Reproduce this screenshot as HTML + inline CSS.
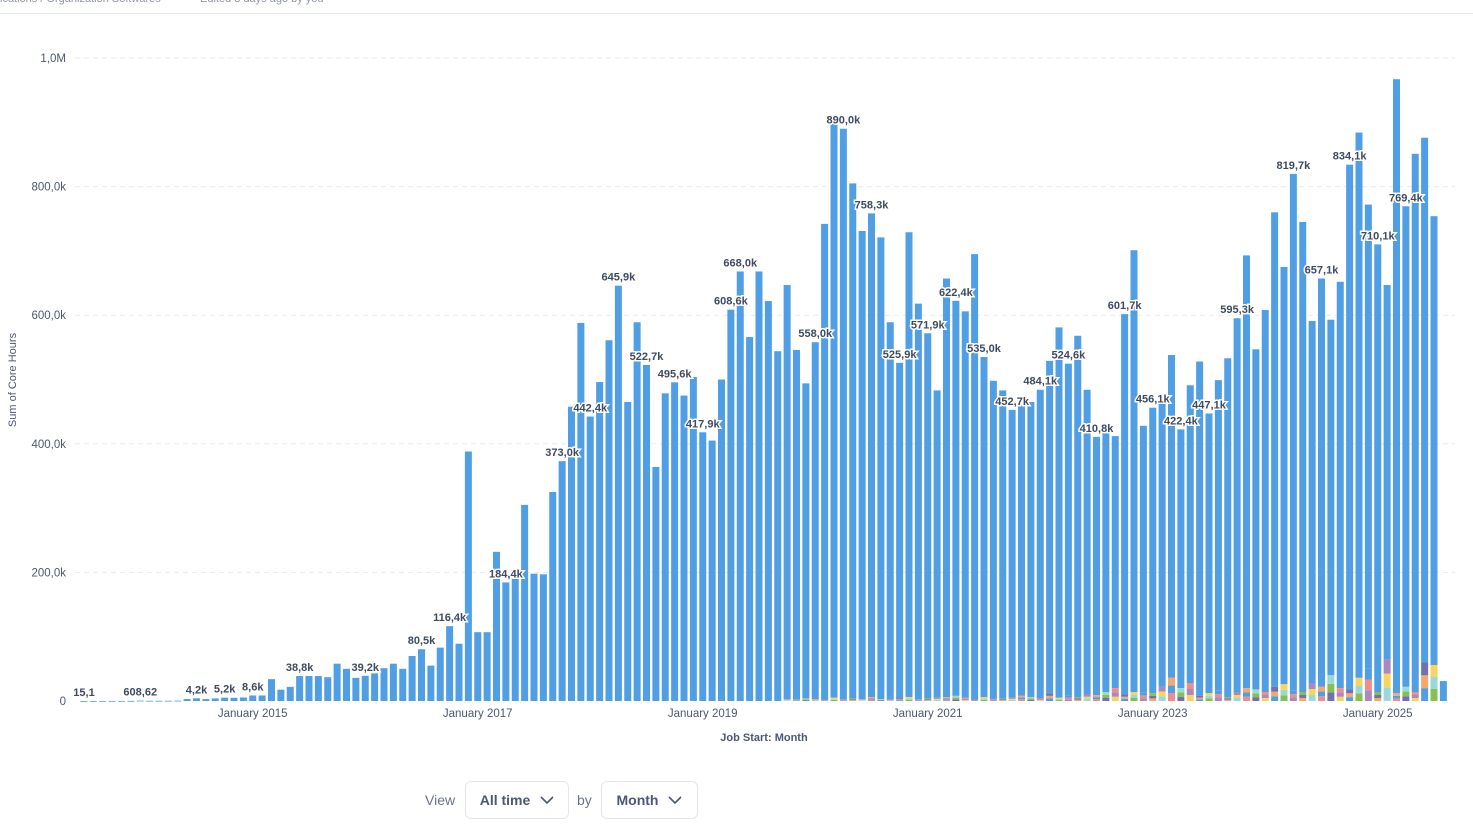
<!DOCTYPE html>
<html><head><meta charset="utf-8">
<style>
body{margin:0;width:1473px;height:826px;background:#fff;font-family:"Liberation Sans",sans-serif;overflow:hidden;position:relative}
.top{position:absolute;left:0;top:0;width:1473px;height:13px;border-bottom:1px solid #e6e8ec}
.top span{position:absolute;top:-7px;font-size:11px;color:#8e97a6}
.ctl{position:absolute;top:781px;height:38px;border:1px solid #e3e6ea;border-radius:6px;font-size:14px;font-weight:bold;color:#4c5773;display:flex;align-items:center;justify-content:center;gap:10px;box-sizing:border-box}
.lbl{position:absolute;top:792px;font-size:14px;color:#6b7487}
</style></head><body>
<div class="top"><span style="left:0">ications / Organization Softwares</span><span style="left:200px">Edited 3 days ago by you</span></div>
<svg id="chart" width="1473" height="770" style="position:absolute;left:0;top:0"></svg>
<div class="lbl" style="left:425px">View</div>
<div class="ctl" style="left:465px;width:104px">All time <svg width="14" height="8"><path d="M1 1l6 6 6-6" stroke="#4c5773" stroke-width="1.6" fill="none"/></svg></div>
<div class="lbl" style="left:577px">by</div>
<div class="ctl" style="left:601px;width:97px">Month <svg width="14" height="8"><path d="M1 1l6 6 6-6" stroke="#4c5773" stroke-width="1.6" fill="none"/></svg></div>
<script>
// values in thousands, monthly from July 2013
const startYear = 2013, startMonth = 6;
const values = [
0.0151,0.05,0.08,0.1,0.12,0.2,
0.60862,0.3,0.3,0.4,0.5,3.0,4.2,3.0,4.0,5.2,5.0,5.5,
8.6,8.6,34,17.6,22,38.8,38.8,38.8,37,58,50,36,
39.2,43,51,58,50,70,80.5,55,83,116.4,89,388,
107,107,232,184.4,190,305,198,197,325,373,457.7,588,
442.4,496,561,645.9,465,589,522.7,364,478.5,495.6,475,504,
417.9,405,500,608.6,668.0,566,668,622,544,647,546,494,
558.0,742,898,890.0,805,731,758.3,721,589,525.9,729,618,
571.9,483,657,622.4,606,695,535.0,498,483,452.7,460,465,
484.1,529,581,524.6,568,484,410.8,425,412,601.7,701,428,
456.1,463,538,422.4,491,528,447.1,499,533,595.3,693,547,
608,760,675,819.7,745,591,657.1,593,652,834.1,884,772,
710.1,647,967,769.4,851,876,754,31
];
const otherVals = [ // small stacked "other" series (thousands), aligned to end of values
0,3,2,4,3,2,5,3,4,3,6,3,2,4,6,3,4,5,6,8,5,3,6,4,
4,5,8,6,4,12,5,8,6,10,9,14,20,10,14,13,12,22,36,20,28,8,
12,16,6,14,20,18,14,22,26,16,14,28,22,40,20,18,36,50,14,64,12,22,14,60,56,0
];
const labeled = [0,6,12,15,18,23,30,36,39,45,51,54,57,60,63,66,69,70,78,81,84,87,90,93,96,99,102,105,108,111,114,117,120,123,129,132,135,138,141];
const yTicks = [0,200,400,600,800,1000];
const yTickLabels = ["0","200,0k","400,0k","600,0k","800,0k","1,0M"];
const xTickYears = [2015,2017,2019,2021,2023,2025];
const otherColors = ["#88bf4d","#a989c5","#f2a86f","#98d9d9","#ef8c8c","#7172ad","#f9d45c","#509ee3"];

const svg = document.getElementById('chart');
const NS = 'http://www.w3.org/2000/svg';
const y0 = 701, yTop = 58, x0 = 84, pitch = 9.375, bw = 7;
const yScale = v => y0 - v / 1000 * (y0 - yTop);
const xScale = i => x0 + i * pitch;
function mk(tag, attrs, text){const e=document.createElementNS(NS,tag);for(const k in attrs)e.setAttribute(k,attrs[k]);if(text!==undefined)e.textContent=text;svg.appendChild(e);return e;}
function fmt(v){ if(v<1) return (v*1000).toLocaleString('de-DE',{maximumFractionDigits:2}); return v.toFixed(1).replace('.',',')+'k'; }

yTicks.forEach((t,i)=>{
  if(t>0){const g=mk('line',{x1:75,x2:1455,y1:yScale(t),y2:yScale(t),stroke:'#e8eaed','stroke-dasharray':'5,4'});
  
  }
  const l=mk('text',{x:66,y:yScale(t)+4,'text-anchor':'end','font-size':11.5,fill:'#4c5773'},yTickLabels[i]);
  
  
});
const yt=mk('text',{x:16,y:380,'text-anchor':'middle','font-size':11,fill:'#4c5773',transform:'rotate(-90 16 380)'},'Sum of Core Hours');



const offset = values.length - otherVals.length;
values.forEach((v,i)=>{
  const ov = i>=offset ? otherVals[i-offset] : 0;
  const x = xScale(i)-bw/2;
  const r=mk('rect',{x:x,y:yScale(v),width:bw,height:Math.max(yScale(ov)-yScale(v),0.8),fill:'#509ee3'});
  
  
  if(ov>0){
    const n=3, seg=ov/n;
    for(let s=0;s<n;s++){
      const sr=mk('rect',{x:x,y:yScale(seg*(s+1)),width:bw,height:yScale(seg*s)-yScale(seg*(s+1)),fill:otherColors[(i+s*3)%otherColors.length]});
      
      
    }
  }
});
labeled.forEach(i=>{
  const t=mk('text',{x:xScale(i),y:yScale(values[i])-5,'text-anchor':'middle','font-size':11,fill:'#3f4a60',stroke:'#fff','stroke-width':3,'paint-order':'stroke','font-weight':'bold'},fmt(values[i]));
  
  
});
xTickYears.forEach(yr=>{
  const idx=(yr-startYear)*12-startMonth;
  const t=mk('text',{x:xScale(idx),y:717,'text-anchor':'middle','font-size':11.5,fill:'#4c5773'},'January '+yr);
  
  
});
const xt=mk('text',{x:764,y:741,'text-anchor':'middle','font-size':11,'font-weight':'bold',fill:'#4c5773'},'Job Start: Month');


</script>
</body></html>
